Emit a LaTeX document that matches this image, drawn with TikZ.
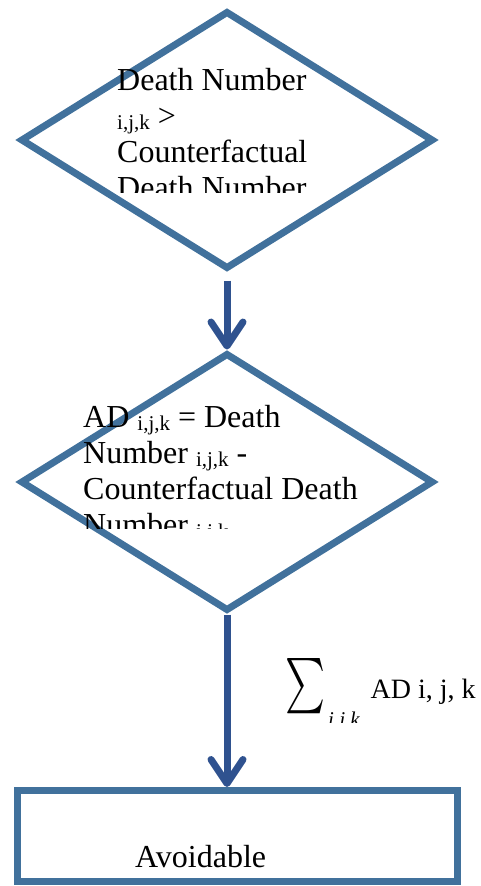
\documentclass[tikz,border=0pt]{standalone}
\usepackage{fontspec}
\setmainfont{Liberation Serif}
\usepackage{graphicx}
\usetikzlibrary{arrows.meta,positioning,shapes.geometric}
\definecolor{dmdblue}{RGB}{65,113,156}
\definecolor{arrblue}{RGB}{47,82,143}
\newcommand{\subidx}[1]{\raisebox{-3pt}{\fontsize{21}{21}\selectfont #1}}
\tikzset{
  dmd/.style={diamond, draw=dmdblue, line width=7pt, minimum width=413pt, minimum height=258pt, inner sep=0pt},
  outbox/.style={rectangle, draw=dmdblue, line width=7pt, minimum width=440pt, minimum height=91pt, inner sep=0pt},
  txt/.style={align=left, anchor=north west, inner sep=0pt, font=\fontsize{32}{36}\selectfont},
  flowar/.style={-{Straight Barb[length=24pt,width=32pt,round]}, arrblue, line width=7pt},
}

\begin{document}
\begin{tikzpicture}[x=1pt,y=-1pt]
  \useasboundingbox (0,0) rectangle (481,886);
  \node[dmd] (check) at (227,140) {};
  \node[dmd] (diff) at (227,482) {};
  \node[outbox] (avoid) at (237.5,836) {};
  % texts are cut off at the bottom, as in the source
  \begin{scope}
    \clip (100,40) rectangle (340,192);
    \node[txt] (checktxt) at (117,68) {Death Number\\ \subidx{i,j,k} >\\ Counterfactual\\ Death Number};
  \end{scope}
  \begin{scope}
    \clip (70,380) rectangle (400,528);
    \node[txt] (difftxt) at (83,405) {AD \subidx{i,j,k} = Death\\ Number \subidx{i,j,k} -\\ Counterfactual Death\\ Number \subidx{i,j,k}};
  \end{scope}
  \begin{scope}
    \clip (270,640) rectangle (481,722);
    \node[anchor=base west, inner sep=0pt, font=\fontsize{28}{28}\selectfont] (sumlab) at (285,698)
      {\raisebox{-22pt}{\resizebox*{40pt}{62pt}{\raisebox{\depth}{$\sum$}}}\hspace{3pt}\raisebox{-28pt}{\fontsize{21}{21}\selectfont\itshape i,j,k}\hspace{11pt}AD i, j, k};
  \end{scope}
  \node[anchor=base west, inner sep=0pt, font=\fontsize{32}{32}\selectfont] (avoidtxt) at (135,867) {Avoidable};
  \draw[flowar, shorten <=8pt] (check.south) -- (diff.north);
  \draw[flowar] (diff.south) -- (diff.south |- avoid.north);
\end{tikzpicture}
\end{document}
